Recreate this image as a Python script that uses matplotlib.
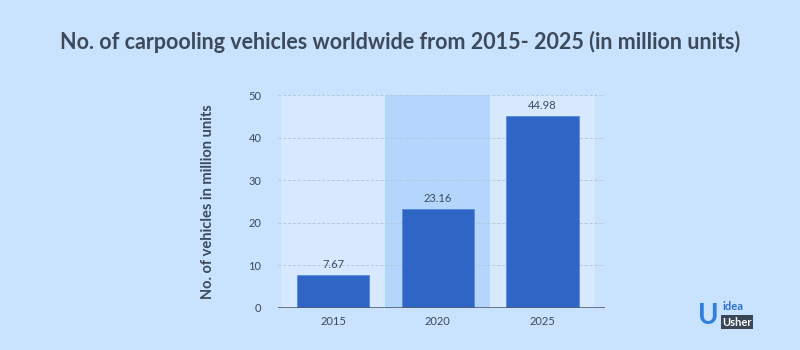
import matplotlib
matplotlib.use("Agg")
import matplotlib.pyplot as plt

years = ["2015", "2020", "2025"]
values = [7.67, 23.16, 44.98]
yticks = [0, 10, 20, 30, 40, 50]

bg = "#c9e2fd"
panel = "#d7e9fe"
band = "#b4d6fd"
bar_c = "#2f65c5"
txt = "#3d4a5b"

fig = plt.figure(figsize=(8, 3.5), dpi=100, facecolor=bg)
ax = fig.add_axes([278/800, 42/350, 327/800, 213/350])
ax.set_facecolor(bg)
x = list(range(len(years)))
ax.axvspan(-0.5, 2.5, color=panel, zorder=0, lw=0)
ax.axvspan(0.5, 1.5, color=band, zorder=0, lw=0)
bars = ax.bar(x, values, width=0.69, color=bar_c, zorder=3, edgecolor="#5a8ae0", linewidth=0.6)
for xi, v in zip(x, values):
    ax.text(xi, v + 1.2, f"{v:.2f}", ha="center", va="bottom", fontsize=8, color=txt, family="Lato")
ax.set_xlim(-0.525, 2.597)
ax.set_ylim(0, 50)
ax.set_yticks(yticks)
ax.set_xticks(x)
ax.set_xticklabels(years)
ax.tick_params(axis="both", length=0, labelsize=8, colors=txt)
ax.tick_params(axis="y", pad=12)
ax.tick_params(axis="x", pad=6)
for lab in ax.get_xticklabels() + ax.get_yticklabels():
    lab.set_family("Lato")
for t in yticks[1:]:
    ax.axhline(t, color="#b5c6d9", lw=0.7, ls=(0, (3, 2)), zorder=1)
ax.axhline(0, color="#555f6b", lw=1.2, zorder=4)
for s in ax.spines.values():
    s.set_visible(False)
ax.set_ylabel("No. of vehicles in million units", fontsize=10.5, fontweight="bold",
              color=txt, family="Lato", labelpad=24)

fig.text(0.5, 1 - 42/350, "No. of carpooling vehicles worldwide from 2015- 2025 (in million units)",
         ha="center", va="center", fontsize=15.5, fontweight="bold", color=txt, family="Lato")

# logo
fig.text(708/800, 1 - 316/350, "U", ha="center", va="center", fontsize=20, fontweight="bold", color="#2f7fe0", family="Lato")
fig.text(722/800, 1 - 307/350, "idea", ha="left", va="center", fontsize=8, fontweight="bold", color="#2f6fd0", family="Lato")
fig.text(722/800, 1 - 322/350, "Usher", ha="left", va="center", fontsize=8, fontweight="bold", color="white",
         family="Lato", bbox=dict(boxstyle="square,pad=0.1", fc="#3a4656", ec="none"))

fig.savefig("out.png", dpi=100, facecolor=bg)
